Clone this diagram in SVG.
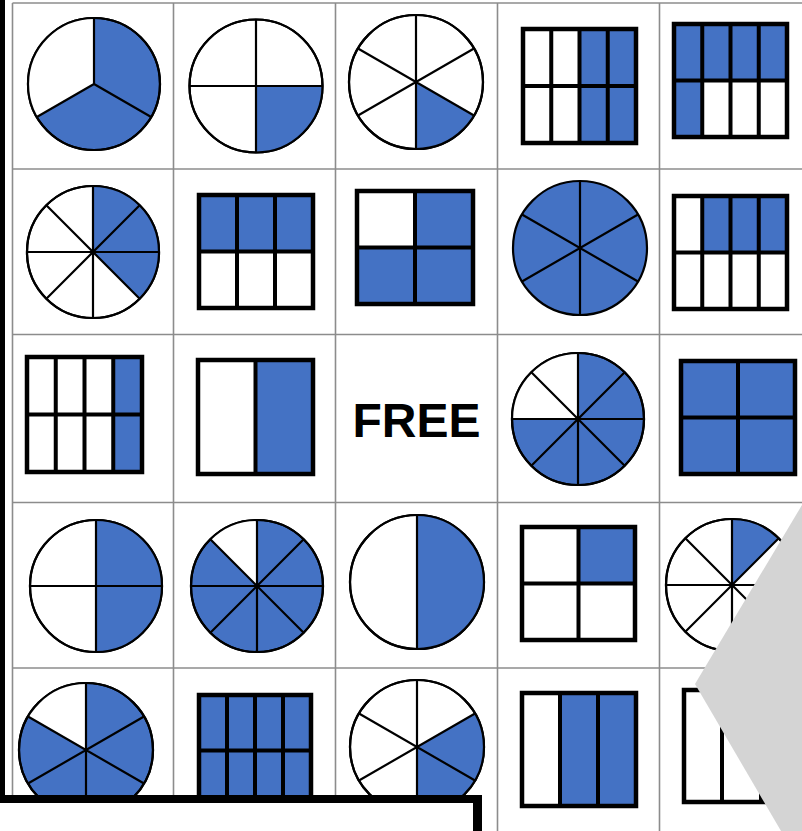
<svg xmlns="http://www.w3.org/2000/svg" width="802" height="831" viewBox="0 0 802 831">
<style>
.grid{stroke:#8c8c8c;stroke-width:1.6;fill:none}
.pie{fill:#fff;stroke:#000;stroke-width:2.2}
.pieb{fill:#4472c4;stroke:#000;stroke-width:2.2}
.ring{fill:none;stroke:#000;stroke-width:2.2}
.w{fill:#fff}
.b{fill:#4472c4}
.div{stroke:#000;stroke-width:2.2;fill:none}
.rdiv{stroke:#000;stroke-width:4;fill:none}
.box{fill:none;stroke:#000;stroke-width:4.5}
.free{font-family:"Liberation Sans",Arial,sans-serif;font-weight:bold;font-size:48px;fill:#000}
</style>
<rect width="802" height="831" fill="#fff"/>
<g id="connectors" class="grid">
<line x1="12.5" y1="3" x2="12.5" y2="831"/>
<line x1="173.5" y1="3" x2="173.5" y2="831"/>
<line x1="335.5" y1="3" x2="335.5" y2="831"/>
<line x1="497.5" y1="3" x2="497.5" y2="831"/>
<line x1="659.5" y1="3" x2="659.5" y2="831"/>
<line x1="12.5" y1="3" x2="802" y2="3"/>
<line x1="12.5" y1="169" x2="802" y2="169"/>
<line x1="12.5" y1="334.5" x2="802" y2="334.5"/>
<line x1="12.5" y1="502.5" x2="802" y2="502.5"/>
<line x1="12.5" y1="668" x2="802" y2="668"/>
</g>
<!-- Row 0 -->
<g id="c00">
<circle class="pieb" cx="94" cy="84" r="66"/>
<path class="w" d="M94,84 L94,18 A66,66 0 0,0 36.84,117 Z"/>
<path class="div" d="M94,84 L94,18 M94,84 L36.84,117 M94,84 L151.16,117"/>
<circle class="ring" cx="94" cy="84" r="66"/>
</g>
<g id="c01">
<circle class="pie" cx="256" cy="86" r="66.5"/>
<path class="b" d="M256,86 L322.5,86 A66.5,66.5 0 0,1 256,152.5 Z"/>
<path class="div" d="M189.5,86 L322.5,86 M256,19.5 L256,152.5"/>
<circle class="ring" cx="256" cy="86" r="66.5"/>
</g>
<g id="c02">
<circle class="pie" cx="416" cy="82" r="67"/>
<path class="b" d="M416,82 L474.02,115.5 A67,67 0 0,1 416,149 Z"/>
<path class="div" d="M416,15 L416,149 M357.98,48.5 L474.02,115.5 M357.98,115.5 L474.02,48.5"/>
<circle class="ring" cx="416" cy="82" r="67"/>
</g>
<g id="c03">
<rect class="b" x="579.5" y="29" width="56.5" height="114"/>
<path class="rdiv" d="M551.25,29 V143 M579.5,29 V143 M607.75,29 V143 M523,86 H636"/>
<rect class="box" x="523" y="29" width="113" height="114"/>
</g>
<g id="c04">
<rect class="b" x="674" y="24" width="113" height="56.5"/>
<rect class="b" x="674" y="80.5" width="28.25" height="56.5"/>
<path class="rdiv" d="M702.25,24 V137 M730.5,24 V137 M758.75,24 V137 M674,80.5 H787"/>
<rect class="box" x="674" y="24" width="113" height="113"/>
</g>
<!-- Row 1 -->
<g id="c10">
<circle class="pie" cx="93" cy="252" r="66"/>
<path class="b" d="M93,252 L93,186 A66,66 0 0,1 139.67,298.67 Z"/>
<path class="div" d="M93,186 L93,318 M27,252 L159,252 M46.33,205.33 L139.67,298.67 M46.33,298.67 L139.67,205.33"/>
<circle class="ring" cx="93" cy="252" r="66"/>
</g>
<g id="c11">
<rect class="b" x="199" y="195" width="114" height="56.5"/>
<path class="rdiv" d="M237,195 V308 M275,195 V308 M199,251.5 H313"/>
<rect class="box" x="199" y="195" width="114" height="113"/>
</g>
<g id="c12">
<rect class="b" x="415" y="191" width="58" height="56.5"/>
<rect class="b" x="357" y="247.5" width="116" height="56.5"/>
<path class="rdiv" d="M415,191 V304 M357,247.5 H473"/>
<rect class="box" x="357" y="191" width="116" height="113"/>
</g>
<g id="c13">
<circle class="pieb" cx="580" cy="248" r="67"/>
<path class="div" d="M580,181 L580,315 M521.98,214.5 L638.02,281.5 M521.98,281.5 L638.02,214.5"/>
</g>
<g id="c14">
<rect class="b" x="702.25" y="196" width="84.75" height="56.5"/>
<path class="rdiv" d="M702.25,196 V309 M730.5,196 V309 M758.75,196 V309 M674,252.5 H787"/>
<rect class="box" x="674" y="196" width="113" height="113"/>
</g>
<!-- Row 2 -->
<g id="c20">
<rect class="b" x="113.25" y="357" width="28.75" height="115"/>
<path class="rdiv" d="M55.75,357 V472 M84.5,357 V472 M113.25,357 V472 M27,414.5 H142"/>
<rect class="box" x="27" y="357" width="115" height="115"/>
</g>
<g id="c21">
<rect class="b" x="255.5" y="360" width="57.5" height="114"/>
<path class="rdiv" d="M255.5,360 V474"/>
<rect class="box" x="198" y="360" width="115" height="114"/>
</g>
<g id="c22">
<text class="free" x="416.5" y="437" text-anchor="middle">FREE</text>
</g>
<g id="c23">
<circle class="pieb" cx="578" cy="419" r="66"/>
<path class="w" d="M578,419 L578,353 A66,66 0 0,0 512,419 Z"/>
<path class="div" d="M578,353 L578,485 M512,419 L644,419 M531.33,372.33 L624.67,465.67 M531.33,465.67 L624.67,372.33"/>
<circle class="ring" cx="578" cy="419" r="66"/>
</g>
<g id="c24">
<rect class="b" x="681" y="361" width="114" height="113"/>
<path class="rdiv" d="M738,361 V474 M681,417.5 H795"/>
<rect class="box" x="681" y="361" width="114" height="113"/>
</g>
<!-- Row 3 -->
<g id="c30">
<circle class="pie" cx="96" cy="586" r="66"/>
<path class="b" d="M96,520 A66,66 0 0,1 96,652 Z"/>
<path class="div" d="M96,520 L96,652 M30,586 L162,586"/>
<circle class="ring" cx="96" cy="586" r="66"/>
</g>
<g id="c31">
<circle class="pieb" cx="257" cy="586" r="66"/>
<path class="w" d="M257,586 L257,520 A66,66 0 0,0 210.33,539.33 Z"/>
<path class="div" d="M257,520 L257,652 M191,586 L323,586 M210.33,539.33 L303.67,632.67 M210.33,632.67 L303.67,539.33"/>
<circle class="ring" cx="257" cy="586" r="66"/>
</g>
<g id="c32">
<circle class="pie" cx="417" cy="582" r="67"/>
<path class="b" d="M417,515 A67,67 0 0,1 417,649 Z"/>
<path class="div" d="M417,515 L417,649"/>
<circle class="ring" cx="417" cy="582" r="67"/>
</g>
<g id="c33">
<rect class="b" x="578.5" y="527" width="56.5" height="56.5"/>
<path class="rdiv" d="M578.5,527 V640 M522,583.5 H635"/>
<rect class="box" x="522" y="527" width="113" height="113"/>
</g>
<g id="c34">
<circle class="pie" cx="732" cy="585" r="66"/>
<path class="b" d="M732,585 L732,519 A66,66 0 0,1 778.67,538.33 Z"/>
<path class="div" d="M732,519 L732,651 M666,585 L798,585 M685.33,538.33 L778.67,631.67 M685.33,631.67 L778.67,538.33"/>
<circle class="ring" cx="732" cy="585" r="66"/>
</g>
<!-- Row 4 -->
<g id="c40">
<circle class="pieb" cx="86" cy="750" r="67"/>
<path class="w" d="M86,750 L86,683 A67,67 0 0,0 27.98,716.5 Z"/>
<path class="div" d="M86,683 L86,817 M27.98,716.5 L144.02,783.5 M27.98,783.5 L144.02,716.5"/>
<circle class="ring" cx="86" cy="750" r="67"/>
</g>
<g id="c41">
<rect class="b" x="199" y="695" width="112" height="111"/>
<path class="rdiv" d="M227,695 V806 M255,695 V806 M283,695 V806 M199,750.5 H311"/>
<rect class="box" x="199" y="695" width="112" height="111"/>
</g>
<g id="c42">
<circle class="pie" cx="417" cy="747" r="67"/>
<path class="b" d="M417,747 L475.02,713.5 A67,67 0 0,1 417,814 Z"/>
<path class="div" d="M417,680 L417,814 M358.98,713.5 L475.02,780.5 M358.98,780.5 L475.02,713.5"/>
<circle class="ring" cx="417" cy="747" r="67"/>
</g>
<g id="c43">
<rect class="b" x="560" y="693" width="76" height="113"/>
<path class="rdiv" d="M560,693 V806 M598,693 V806"/>
<rect class="box" x="522" y="693" width="114" height="113"/>
</g>
<g id="c44">
<path class="rdiv" d="M722,690 V802 M761,690 V802"/>
<rect class="box" x="684" y="690" width="116" height="112"/>
</g>
<g id="overlay">
<polygon points="802,505 695,684 781,831 802,831" fill="#d4d4d4"/>
<rect x="0" y="0" width="5" height="803" fill="#000"/>
<rect x="0" y="795" width="482" height="36" fill="#fff"/>
<rect x="0" y="795" width="482" height="8" fill="#000"/>
<rect x="473" y="795" width="9" height="36" fill="#000"/>
</g>
</svg>
